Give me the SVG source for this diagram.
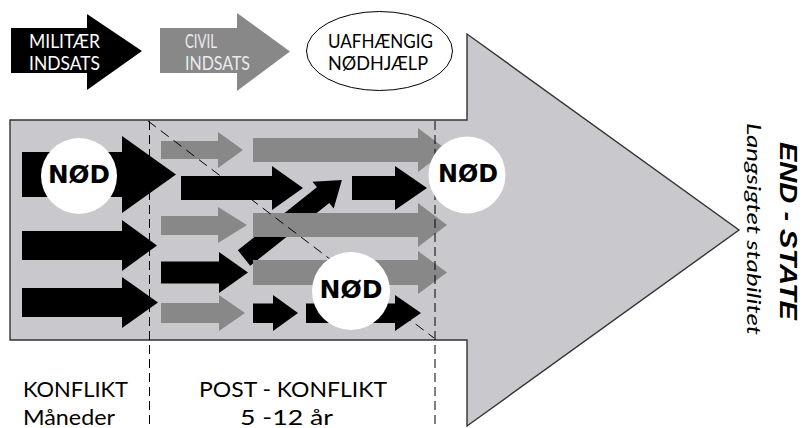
<svg xmlns="http://www.w3.org/2000/svg" width="803" height="428" viewBox="0 0 803 428">
<style>
.blk{fill:#000}
.gry{fill:#888}
.dash{stroke:#000;stroke-width:1;fill:none}
.nodc{fill:#fff}
.nod{font-family:"DejaVu Sans","Liberation Sans",sans-serif;font-weight:bold;font-size:24px;fill:#000;text-anchor:middle}
.lg{font-family:Lato,"Liberation Sans",sans-serif;font-size:20px}
.bt{font-family:Lato,"Liberation Sans",sans-serif;font-size:21px;fill:#000}
</style>
<rect width="803" height="428" fill="#fff"/>

<g id="legend-militaer">
<polygon class="blk" points="11,28 87,28 87,14 142,51 87,90 87,73 11,73"/>
<text class="lg" fill="#fff" x="29" y="48" textLength="71" lengthAdjust="spacingAndGlyphs">MILITÆR</text>
<text class="lg" fill="#fff" x="29" y="70" textLength="71" lengthAdjust="spacingAndGlyphs">INDSATS</text>
</g>
<g id="legend-civil">
<polygon class="gry" points="160,28 237,28 237,13 290,51.5 237,91 237,73 160,73"/>
<text class="lg" fill="#ececec" x="185" y="48" textLength="32" lengthAdjust="spacingAndGlyphs">CIVIL</text>
<text class="lg" fill="#ececec" x="185" y="70" textLength="65" lengthAdjust="spacingAndGlyphs">INDSATS</text>
</g>
<g id="legend-uafhaengig">
<ellipse cx="379.5" cy="51" rx="73" ry="39.5" fill="#fff" stroke="#000" stroke-width="1"/>
<text class="lg" fill="#000" x="328" y="48" textLength="105" lengthAdjust="spacingAndGlyphs">UAFHÆNGIG</text>
<text class="lg" fill="#000" x="328" y="70" textLength="100" lengthAdjust="spacingAndGlyphs">NØDHJÆLP</text>
</g>

<g id="main-arrow">
<polygon points="10,120 467,120 467,34 739,230 467,426 467,340 10,340" fill="#c9c9cd" stroke="#333" stroke-width="1.4"/>
</g>

<g id="flows">
<polygon class="blk" points="22,152 122,152 122,136 176,174.5 122,213 122,197 22,197"/>
<polygon class="blk" points="22,231 122,231 122,220 157,245.5 122,271 122,260 22,260"/>
<polygon class="blk" points="22,288 122,288 122,277 158,302.5 122,328 122,317 22,317"/>
<polygon class="gry" points="161,141 218,141 218,132 243,150 218,168 218,159 161,159"/>
<polygon class="blk" points="181,176 272,176 272,166 303,188 272,210 272,200 181,200"/>
<polygon class="gry" points="161,216 218,216 218,207 247,225 218,243 218,235 161,235"/>
<polygon class="blk" points="161,261.5 219,261.5 219,252 248,272.5 219,293 219,283.5 161,283.5"/>
<polygon class="gry" points="161,303 219,303 219,295 245,313 219,331 219,323 161,323"/>
<polygon class="blk" points="253,303.5 273,303.5 273,295 298,313 273,331 273,323 253,323"/>
<polygon class="blk" points="306,303.5 395,303.5 395,295 421,313 395,331 395,323 306,323"/>
<polygon class="blk" points="237.8,250.2 316.9,187.3 312.5,181.8 341.9,180.1 333.7,208.4 329.3,202.9 250.2,265.8"/>
<polygon class="gry" points="253,138 418,138 418,128 447,150 418,172 418,162 253,162"/>
<polygon class="gry" points="253,213 418,213 418,203 447,225 418,247 418,237 253,237"/>
<polygon class="gry" points="253,260 418,260 418,251 447,272.5 418,294 418,285 253,285"/>
<polygon class="blk" points="352,176 395,176 395,166 427,188 395,210 395,200 352,200"/>
</g>

<g id="dividers">
<line class="dash" x1="149.5" y1="121" x2="149.5" y2="428" stroke-dasharray="9 5"/>
<line class="dash" x1="435" y1="121" x2="435" y2="428" stroke-dasharray="9 5"/>
<line class="dash" x1="148" y1="121" x2="434" y2="338" stroke-dasharray="10 6"/>
</g>

<g id="nod-1">
<circle class="nodc" cx="79" cy="176" r="38"/>
<text class="nod" x="79" y="183" textLength="62" lengthAdjust="spacingAndGlyphs">NØD</text>
</g>
<g id="nod-2">
<circle class="nodc" cx="467" cy="175" r="38.5"/>
<text class="nod" x="468" y="182" textLength="60" lengthAdjust="spacingAndGlyphs">NØD</text>
</g>
<g id="nod-3">
<circle class="nodc" cx="351" cy="291" r="39"/>
<text class="nod" x="351" y="298" textLength="63" lengthAdjust="spacingAndGlyphs">NØD</text>
</g>

<g id="phase-konflikt">
<text class="bt" x="23" y="397" textLength="105" lengthAdjust="spacingAndGlyphs">KONFLIKT</text>
<text class="bt" x="23" y="425" textLength="92" lengthAdjust="spacingAndGlyphs">Måneder</text>
</g>
<g id="phase-post">
<text class="bt" x="199" y="397" textLength="188" lengthAdjust="spacingAndGlyphs">POST - KONFLIKT</text>
<text class="bt" x="240" y="425" textLength="93" lengthAdjust="spacingAndGlyphs">5 -12 år</text>
</g>
<g id="end-state">
<text transform="translate(780,231) rotate(90)" text-anchor="middle" font-family="'Liberation Sans',sans-serif" font-weight="bold" font-style="italic" font-size="23" fill="#000" textLength="178" lengthAdjust="spacingAndGlyphs">END - STATE</text>
<text transform="translate(747,229) rotate(90)" text-anchor="middle" font-family="Lato,'Liberation Sans',sans-serif" font-style="italic" font-size="20" fill="#000" textLength="212" lengthAdjust="spacingAndGlyphs">Langsigtet stabilitet</text>
</g>
</svg>
